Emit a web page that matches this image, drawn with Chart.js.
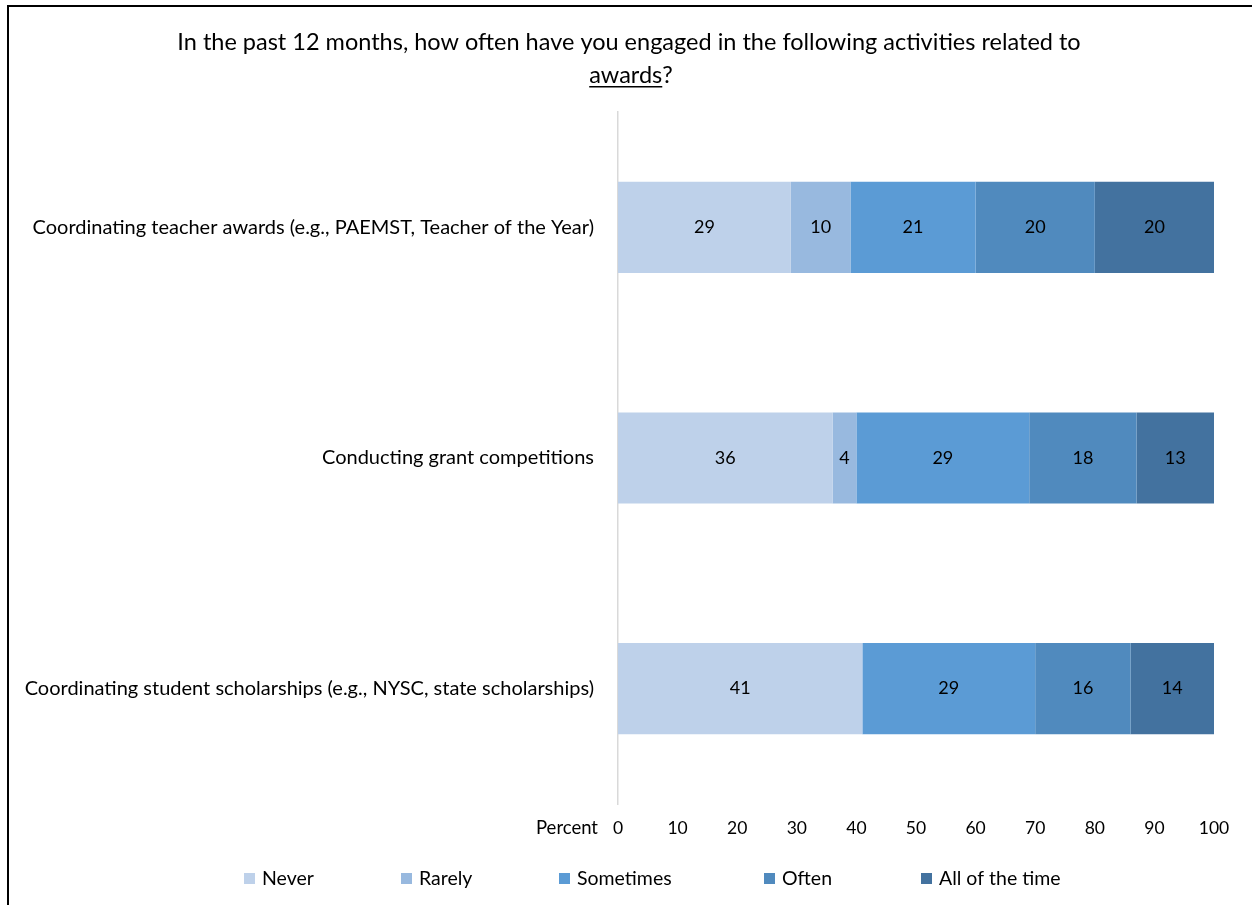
<!DOCTYPE html>
<html><head><meta charset="utf-8">
<script src="https://cdn.jsdelivr.net/npm/chart.js@4"></script>
<style>
html,body{margin:0;padding:0;background:#fff;overflow:hidden}
#wrap{position:relative;width:1252px;height:905px}
#frame{position:absolute;left:7px;top:5px;width:1300px;height:1000px;border-left:2px solid #000;border-top:2px solid #000}
#c{position:absolute;left:0;top:0}
</style></head><body>
<div id="wrap"><div id="frame"></div><canvas id="c" width="1252" height="905"></canvas></div>
<script>
const categories = [
  'Coordinating teacher awards (e.g., PAEMST, Teacher of the Year)',
  'Conducting grant competitions',
  'Coordinating student scholarships (e.g., NYSC, state scholarships)'
];
const seriesNames = ['Never', 'Rarely', 'Sometimes', 'Often', 'All of the time'];
const never = [29, 36, 41];
const rarely = [10, 4, 0];
const sometimes = [21, 29, 29];
const often = [20, 18, 16];
const allOfTheTime = [20, 13, 14];
const titleLine1 = 'In the past 12 months, how often have you engaged in the following activities related to';
const titleUnderlined = 'awards';
const titleTail = '?';
const axisTitle = 'Percent';

const seriesValues = [never, rarely, sometimes, often, allOfTheTime];
const colors = ['#BED1EA', '#98B9DF', '#5B9BD5', '#508ABE', '#43729F'];
const FONT = 'Lato, "Open Sans", sans-serif';

const titlePlugin = {
  id: 'titlePlugin',
  afterDraw(chart) {
    const ctx = chart.ctx;
    ctx.save();
    ctx.fillStyle = '#000';
    ctx.font = '23.5px ' + FONT;
    ctx.textBaseline = 'middle';
    ctx.textAlign = 'center';
    ctx.fillText(titleLine1, 629, 42);
    const w1 = ctx.measureText(titleUnderlined).width;
    const w2 = ctx.measureText(titleTail).width;
    const start = 631 - (w1 + w2) / 2;
    ctx.textAlign = 'left';
    ctx.fillText(titleUnderlined, start, 75);
    ctx.fillText(titleTail, start + w1, 75);
    ctx.fillRect(start, 86, w1, 1.5);
    ctx.restore();
  }
};

const valueLabels = {
  id: 'valueLabels',
  afterDatasetsDraw(chart) {
    const ctx = chart.ctx;
    ctx.save();
    ctx.fillStyle = '#000';
    ctx.font = '18px ' + FONT;
    ctx.textAlign = 'center';
    ctx.textBaseline = 'middle';
    chart.data.datasets.forEach((ds, i) => {
      const meta = chart.getDatasetMeta(i);
      meta.data.forEach((el, j) => {
        const v = ds.data[j];
        if (!v) return;
        ctx.fillText(String(v), (el.x + el.base) / 2, el.y);
      });
    });
    ctx.restore();
  }
};

const percentLabel = {
  id: 'percentLabel',
  afterDraw(chart) {
    const ctx = chart.ctx;
    ctx.save();
    ctx.fillStyle = '#000';
    ctx.font = '18.5px ' + FONT;
    ctx.textAlign = 'right';
    ctx.textBaseline = 'middle';
    ctx.fillText(axisTitle, 598, 828);
    ctx.restore();
  }
};

const legendX = [244, 401, 559, 764, 921];
const customLegend = {
  id: 'customLegend',
  afterDraw(chart) {
    const ctx = chart.ctx;
    ctx.save();
    ctx.font = '19.5px ' + FONT;
    ctx.textAlign = 'left';
    ctx.textBaseline = 'middle';
    chart.data.datasets.forEach((ds, i) => {
      const x = legendX[i];
      ctx.fillStyle = ds.backgroundColor;
      ctx.fillRect(x, 873, 11, 11);
      ctx.fillStyle = '#000';
      ctx.fillText(ds.label, x + 18, 879);
    });
    ctx.restore();
  }
};

new Chart(document.getElementById('c'), {
  type: 'bar',
  data: {
    labels: categories,
    datasets: seriesNames.map((name, i) => ({
      label: name,
      data: seriesValues[i],
      backgroundColor: colors[i],
      borderWidth: 0,
      barPercentage: 0.395,
      categoryPercentage: 1
    }))
  },
  options: {
    indexAxis: 'y',
    responsive: false,
    animation: false,
    layout: { padding: { left: 8, right: 38, top: 112, bottom: 51 } },
    plugins: { legend: { display: false }, title: { display: false }, tooltip: { enabled: false } },
    scales: {
      x: {
        stacked: true, min: 0, max: 100,
        ticks: { stepSize: 10, color: '#000', font: { family: FONT, size: 17.5 }, padding: 13.5, maxRotation: 0 },
        grid: { display: false, drawTicks: false },
        border: { display: false },
        afterFit(s) { s.height = 50; }
      },
      y: {
        stacked: true,
        ticks: { color: '#000', font: { family: FONT, size: 20 }, padding: 24 },
        grid: { display: true, drawOnChartArea: false, drawTicks: false },
        border: { display: true, color: '#D9D9D9', width: 1.5 },
        afterFit(s) { s.width = 610; }
      }
    }
  },
  plugins: [titlePlugin, valueLabels, percentLabel, customLegend]
});
</script>
</body></html>
